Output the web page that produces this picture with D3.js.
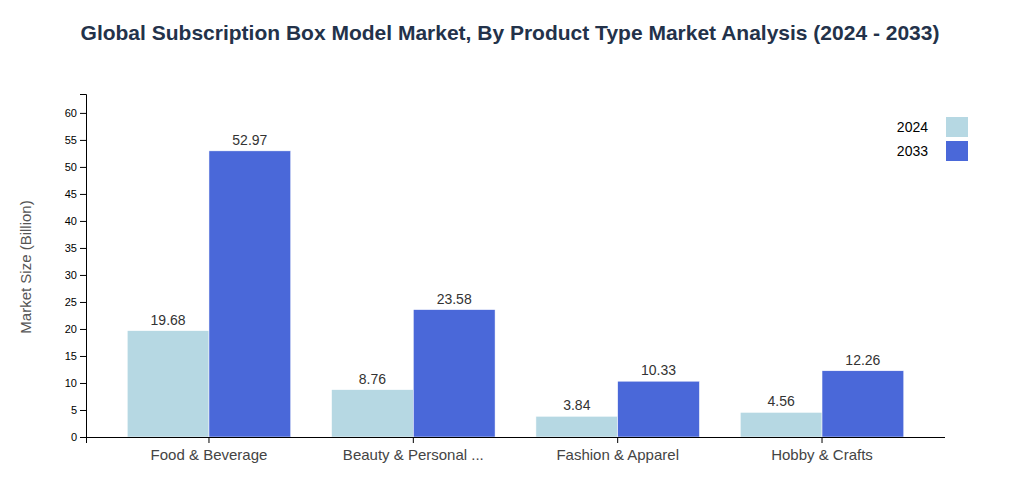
<!DOCTYPE html>
<html><head><meta charset="utf-8">
<script src="https://cdn.jsdelivr.net/npm/d3@7"></script>
<style>body{margin:0;background:#fff;font-family:"Helvetica Neue",Arial,"Liberation Sans",sans-serif}</style>
</head><body><svg id="c" width="1024" height="478"></svg>
<script>
const categories=["Food & Beverage","Beauty & Personal ...","Fashion & Apparel","Hobby & Crafts"];
const seriesNames=["2024","2033"];
const values2024=[19.68,8.76,3.84,4.56];
const values2033=[52.97,23.58,10.33,12.26];
const yTicks=[0,5,10,15,20,25,30,35,40,45,50,55,60];
const colors=["#b6d8e3","#4a68d9"];

const svg=d3.select("#c");
const y=d3.scaleLinear().domain([0,63.5]).range([437,94]);
const x0=d3.scaleBand().domain(categories).range([106.8,924.2]).paddingInner(0.2).paddingOuter(0.1);
const x1=d3.scaleBand().domain(seriesNames).range([0,x0.bandwidth()]);

svg.append("text").attr("x",510).attr("y",40).attr("text-anchor","middle")
 .attr("font-size",21).attr("font-weight","bold").attr("fill","#23324a")
 .text("Global Subscription Box Model Market, By Product Type Market Analysis (2024 - 2033)");

const data=categories.map((c,i)=>({c,v:[values2024[i],values2033[i]]}));
const g=svg.append("g");
data.forEach(d=>{
  d.v.forEach((v,j)=>{
    const xx=x0(d.c)+x1(seriesNames[j]);
    g.append("rect").attr("x",xx).attr("y",y(v)).attr("width",x1.bandwidth()).attr("height",437-y(v))
     .attr("fill",colors[j]).attr("stroke","#fff").attr("stroke-width",0.5);
    g.append("text").attr("x",xx+x1.bandwidth()/2).attr("y",y(v)-6).attr("text-anchor","middle")
     .attr("font-size",14).attr("fill","#333").text(v.toFixed(2));
  });
});

const ya=svg.append("g").attr("transform","translate(86,0)").call(d3.axisLeft(y).tickValues(yTicks).tickSizeOuter(6));
ya.selectAll("text").attr("font-size",11).attr("fill","#000");
const xa=svg.append("g").attr("transform","translate(0,437)").call(d3.axisBottom(x0).tickSizeOuter(0));
xa.select(".domain").remove();
xa.selectAll("text").attr("font-size",15).attr("fill","#444").attr("dy","0.9em");
svg.append("line").attr("x1",86).attr("x2",945).attr("y1",437.5).attr("y2",437.5).attr("stroke","#000");
svg.append("line").attr("x1",86.5).attr("x2",86.5).attr("y1",437).attr("y2",443).attr("stroke","#000");

svg.append("text").attr("transform","translate(31,267) rotate(-90)").attr("text-anchor","middle")
 .attr("font-size",15).attr("fill","#555").text("Market Size (Billion)");

seriesNames.forEach((s,i)=>{
  svg.append("rect").attr("x",946).attr("y",117+i*24).attr("width",22).attr("height",20).attr("fill",colors[i]);
  svg.append("text").attr("x",928).attr("y",132+i*24).attr("text-anchor","end").attr("font-size",14).attr("fill","#000").text(s);
});
</script></body></html>
